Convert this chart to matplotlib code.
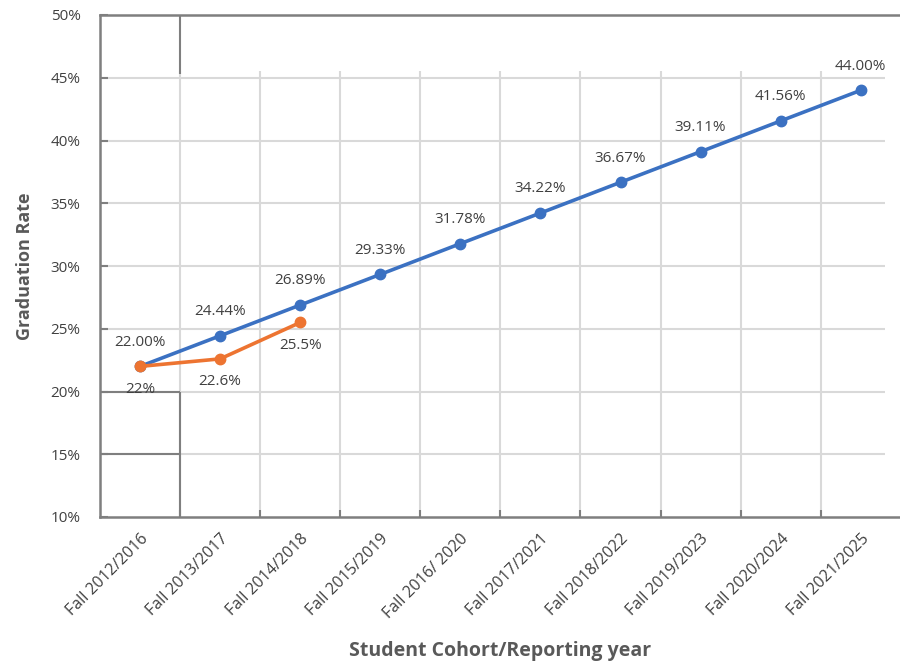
import matplotlib
matplotlib.use("Agg")
import matplotlib.pyplot as plt
import numpy as np

cohorts = ["Fall 2012/2016", "Fall 2013/2017", "Fall 2014/2018", "Fall 2015/2019",
           "Fall 2016/ 2020", "Fall 2017/2021", "Fall 2018/2022", "Fall 2019/2023",
           "Fall 2020/2024", "Fall 2021/2025"]
target_rates = [22.00, 24.44, 26.89, 29.33, 31.78, 34.22, 36.67, 39.11, 41.56, 44.00]
target_labels = ["22.00%", "24.44%", "26.89%", "29.33%", "31.78%", "34.22%",
                 "36.67%", "39.11%", "41.56%", "44.00%"]
actual_rates = [22.0, 22.6, 25.5]
actual_labels = ["22%", "22.6%", "25.5%"]
y_ticks = [10, 15, 20, 25, 30, 35, 40, 45, 50]

plt.rcParams['font.family'] = ['Open Sans', 'DejaVu Sans']

BLUE = "#3b71c2"
ORANGE = "#ed7431"
TEXT = "#404040"
GRID = "#d9d9d9"
SPINE = "#7f7f7f"

fig = plt.figure(figsize=(9, 6.66), dpi=100)
ax = fig.add_axes([100 / 900, 1 - 517 / 666, 800 / 900, (517 - 15) / 666])

x = np.arange(len(cohorts))
xmin, xmax = -0.5, 9.49
ax.set_xlim(xmin, xmax)
ax.set_ylim(10, 50)

# grid: horizontal lines at each 5%, vertical lines between cohorts
for yv in y_ticks[1:-1]:
    ax.hlines(yv, xmin, 9.3, color=GRID, lw=1.5, zorder=0)
for b in np.arange(0.5, 9.5, 1.0):
    ax.vlines(b, 10, 45.5, color=GRID, lw=1.5, zorder=0)

# darker frame around the first cohort column
ax.hlines([15, 20], xmin, 0.5, color=SPINE, lw=1.5, zorder=1)
ax.vlines(0.5, 10, 20, color=SPINE, lw=1.5, zorder=1)
ax.vlines(0.5, 45.3, 50, color=SPINE, lw=1.5, zorder=1)

ax.plot(x, target_rates, color=BLUE, lw=2.6, marker="o", ms=7.5, zorder=3)
ax.plot(x[:len(actual_rates)], actual_rates, color=ORANGE, lw=2.6, marker="o",
        ms=7.5, zorder=4)

for xi, v, lab in zip(x, target_rates, target_labels):
    ax.annotate(lab, (xi, v), xytext=(0, 12), textcoords="offset points",
                ha="center", va="bottom", fontsize=11, color=TEXT, zorder=5)
for xi, v, lab in zip(x, actual_rates, actual_labels):
    ax.annotate(lab, (xi, v), xytext=(0, -11), textcoords="offset points",
                ha="center", va="top", fontsize=11, color=TEXT, zorder=5)

ax.set_yticks(y_ticks)
ax.set_yticklabels([f"{t}%" for t in y_ticks])
ax.set_xticks(x)
ax.set_xticklabels(cohorts, rotation=45, ha="right", rotation_mode="anchor")
ax.set_xticks(np.arange(0.5, 9.5, 1.0), minor=True)
ax.tick_params(axis="x", which="major", length=0, pad=10, labelsize=11.5,
               labelcolor=TEXT)
ax.tick_params(axis="x", which="minor", direction="in", length=5, width=1.5,
               color=SPINE)
ax.tick_params(axis="y", direction="in", length=6, width=1.5, color=SPINE,
               labelsize=11, labelcolor=TEXT, pad=14)

for side in ["left", "bottom", "top"]:
    ax.spines[side].set_color(SPINE)
    ax.spines[side].set_linewidth(1.8)
ax.spines["right"].set_visible(False)

ax.set_ylabel("Graduation Rate", fontsize=13, fontweight="bold", color="#595959",
              labelpad=12)
ax.set_xlabel("Student Cohort/Reporting year", fontsize=14, fontweight="bold",
              color="#595959", labelpad=14)

fig.savefig("out.png", dpi=100)
